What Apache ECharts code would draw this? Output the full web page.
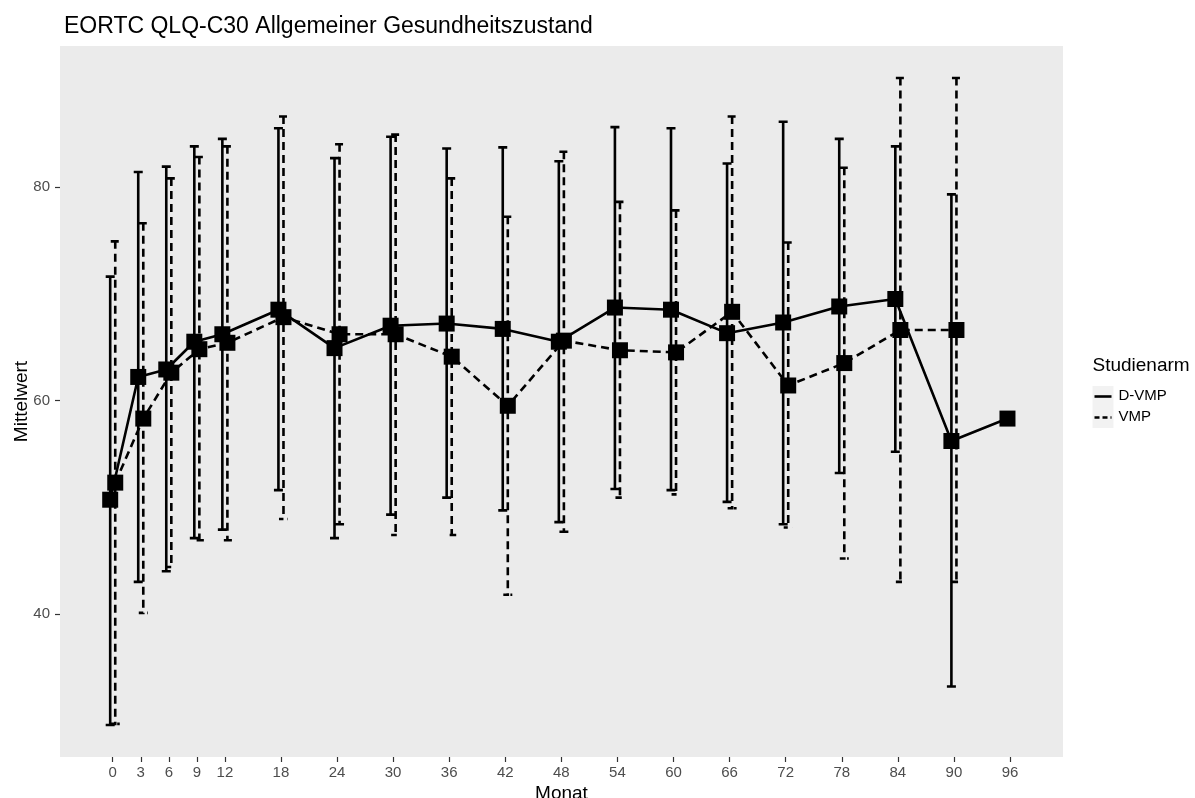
<!DOCTYPE html>
<html>
<head>
<meta charset="utf-8">
<script src="https://cdn.jsdelivr.net/npm/echarts@6/dist/echarts.min.js"></script>
<style>
  html, body { margin: 0; padding: 0; background: #ffffff; }
  #chart { width: 1195px; height: 798px; }
</style>
</head>
<body>
<div id="chart"></div>
<script>
// Visit months (x axis breaks)
const months = [0, 3, 6, 9, 12, 18, 24, 30, 36, 42, 48, 54, 60, 66, 72, 78, 84, 90, 96];
const yTicks = [40, 60, 80];

// D-VMP arm: mean and mean ± SD
const dvmpMean  = [50.7, 62.2, 62.9, 65.5, 66.2, 68.5, 64.9, 67.0, 67.2, 66.7, 65.5, 68.7, 68.5, 66.3, 67.3, 68.8, 69.5, 56.2, 58.3];
const dvmpUpper = [71.6, 81.4, 81.9, 83.8, 84.5, 85.5, 82.7, 84.7, 83.6, 83.7, 82.4, 85.6, 85.5, 82.2, 86.1, 84.5, 83.8, 79.3, null];
const dvmpLower = [29.6, 43.0, 44.0, 47.1, 47.9, 51.6, 47.1, 49.3, 50.9, 49.7, 48.6, 51.7, 51.6, 50.5, 48.4, 53.2, 55.2, 33.2, null];

// VMP arm: mean and mean ± SD (no visit at month 96)
const vmpMonths = [0, 3, 6, 9, 12, 18, 24, 30, 36, 42, 48, 54, 60, 66, 72, 78, 84, 90];
const vmpMean  = [52.3, 58.3, 62.6, 64.8, 65.4, 67.8, 66.2, 66.2, 64.1, 59.5, 65.6, 64.7, 64.5, 68.3, 61.4, 63.5, 66.6, 66.6];
const vmpUpper = [74.9, 76.6, 80.8, 82.8, 83.8, 86.6, 84.0, 84.9, 80.8, 77.2, 83.3, 78.6, 77.8, 86.6, 74.8, 81.8, 90.2, 90.2];
const vmpLower = [29.7, 40.1, 44.4, 46.9, 46.9, 48.9, 48.4, 47.4, 47.4, 41.8, 47.7, 50.9, 51.2, 49.9, 48.1, 45.2, 43.0, 43.0];

// horizontal dodge between the two arms (months)
const DODGE = 0.27;
const FONT = '"Liberation Sans", Arial, sans-serif';
const DASH = [8, 5];

function meanData(xs, means, shift) {
  return xs.map((m, i) => [m + shift, means[i]]);
}
function barData(xs, lo, hi, shift) {
  return xs.map((m, i) => [m + shift, lo[i], hi[i]]).filter(d => d[1] != null && d[2] != null);
}

// error bar drawn as one path: top cap, stem, bottom cap
function errorBar(dashed) {
  return function (params, api) {
    const x = api.value(0);
    const top = api.coord([x, api.value(2)]);
    const bot = api.coord([x, api.value(1)]);
    const h = 4.5;
    return {
      type: 'polyline',
      shape: {
        points: [
          [top[0] - h, top[1]], [top[0] + h, top[1]], [top[0], top[1]],
          [bot[0], bot[1]], [bot[0] - h, bot[1]], [bot[0] + h, bot[1]]
        ]
      },
      style: {
        fill: null,
        stroke: '#000000',
        lineWidth: 2.6,
        lineDash: dashed ? DASH : null
      }
    };
  };
}

const chart = echarts.init(document.getElementById('chart'), null, { renderer: 'canvas' });

const option = {
  animation: false,
  backgroundColor: '#ffffff',
  title: {
    text: 'EORTC QLQ-C30 Allgemeiner Gesundheitszustand',
    left: 59,
    top: 10,
    textStyle: { fontFamily: FONT, fontSize: 23, fontWeight: 'normal', color: '#000000' }
  },
  grid: {
    left: 60, right: 132, top: 46, bottom: 41,
    containLabel: false,
    outerBoundsMode: 'none',
    show: true, backgroundColor: '#EBEBEB', borderWidth: 0
  },
  xAxis: {
    type: 'value',
    min: -5.64, max: 101.67,
    name: 'Monat',
    nameLocation: 'middle',
    nameGap: 27,
    nameMoveOverlap: false,
    nameTextStyle: { fontFamily: FONT, fontSize: 19, color: '#000000' },
    splitLine: { show: false },
    axisLine: { show: false, onZero: false },
    axisTick: { show: true, customValues: months, length: 5, lineStyle: { color: '#333333', width: 1.2 } },
    axisLabel: { customValues: months, fontFamily: FONT, fontSize: 15, color: '#4D4D4D', margin: 8 }
  },
  yAxis: {
    type: 'value',
    min: 26.6, max: 93.2,
    name: 'Mittelwert',
    nameLocation: 'middle',
    nameGap: 29,
    nameMoveOverlap: false,
    nameTextStyle: { fontFamily: FONT, fontSize: 19, color: '#000000' },
    splitLine: { show: false },
    axisLine: { show: false, onZero: false },
    axisTick: { show: true, customValues: yTicks, length: 5, lineStyle: { color: '#333333', width: 1.2 } },
    axisLabel: { customValues: yTicks, fontFamily: FONT, fontSize: 15, color: '#4D4D4D', margin: 10 }
  },
  series: [
    {
      name: 'D-VMP',
      type: 'custom',
      renderItem: errorBar(false),
      data: barData(months, dvmpLower, dvmpUpper, -DODGE),
      encode: { x: 0, y: [1, 2] },
      z: 2
    },
    {
      name: 'VMP',
      type: 'custom',
      renderItem: errorBar(true),
      data: barData(vmpMonths, vmpLower, vmpUpper, DODGE),
      encode: { x: 0, y: [1, 2] },
      z: 2
    },
    {
      name: 'D-VMP',
      type: 'line',
      data: meanData(months, dvmpMean, -DODGE),
      symbol: 'rect',
      symbolSize: 16,
      itemStyle: { color: '#000000' },
      lineStyle: { color: '#000000', width: 2.6, type: 'solid' },
      z: 3
    },
    {
      name: 'VMP',
      type: 'line',
      data: meanData(vmpMonths, vmpMean, DODGE),
      symbol: 'rect',
      symbolSize: 16,
      itemStyle: { color: '#000000' },
      lineStyle: { color: '#000000', width: 2.6, type: DASH },
      z: 3
    }
  ],
  graphic: [
    {
      type: 'group',
      left: 1092,
      top: 356,
      children: [
        { type: 'text', x: 0, y: 0, style: { text: 'Studienarm', font: '19px ' + FONT, fill: '#000000' } },
        { type: 'rect', x: 0, y: 30, shape: { width: 21, height: 21 }, style: { fill: '#F2F2F2' } },
        { type: 'line', shape: { x1: 2, y1: 40.5, x2: 19, y2: 40.5 }, style: { stroke: '#000000', lineWidth: 2.6 } },
        { type: 'text', x: 26, y: 32, style: { text: 'D-VMP', font: '15px ' + FONT, fill: '#000000' } },
        { type: 'rect', x: 0, y: 51, shape: { width: 21, height: 21 }, style: { fill: '#F2F2F2' } },
        { type: 'line', shape: { x1: 2, y1: 61.5, x2: 19, y2: 61.5 }, style: { stroke: '#000000', lineWidth: 2.6, lineDash: [5, 3] } },
        { type: 'text', x: 26, y: 53, style: { text: 'VMP', font: '15px ' + FONT, fill: '#000000' } }
      ]
    }
  ]
};

chart.setOption(option);
</script>
</body>
</html>
